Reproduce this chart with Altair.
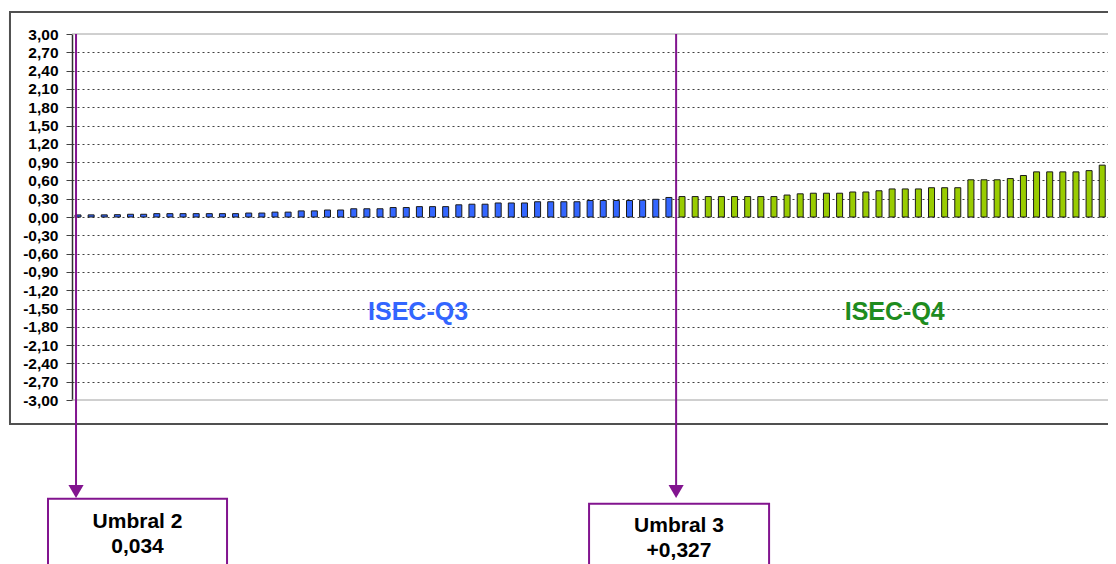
import altair as alt
import pandas as pd

# ---- data ----
q3_values = [0.034, 0.035, 0.035, 0.038, 0.045, 0.045, 0.055, 0.055, 0.055, 0.055,
             0.055, 0.055, 0.055, 0.065, 0.065, 0.08, 0.08, 0.10, 0.10, 0.115,
             0.115, 0.135, 0.135, 0.135, 0.155, 0.155, 0.17, 0.17, 0.17, 0.20,
             0.21, 0.21, 0.23, 0.23, 0.23, 0.25, 0.25, 0.25, 0.25, 0.27,
             0.27, 0.27, 0.27, 0.275, 0.29, 0.32]
q4_values = [0.335, 0.335, 0.335, 0.335, 0.335, 0.335, 0.335, 0.335, 0.36, 0.38,
             0.39, 0.39, 0.39, 0.41, 0.41, 0.43, 0.46, 0.46, 0.46, 0.48,
             0.48, 0.48, 0.61, 0.61, 0.61, 0.63, 0.68, 0.74, 0.74, 0.74,
             0.74, 0.76, 0.85, 1.04]
groups = ["ISEC-Q3", "ISEC-Q4"]
bar_colors = ["#3366FF", "#99CC00"]
label_colors = ["#3366FF", "#1E8C1E"]
y_ticks = [round(-3 + 0.3 * k, 2) for k in range(21)]
threshold_names = ["Umbral 2", "Umbral 3"]
threshold_texts = ["0,034", "+0,327"]

PURPLE = "#82148F"
FONT = "Liberation Sans"

n = len(q3_values) + len(q4_values)
bars = pd.DataFrame({
    "idx": list(range(1, n + 1)),
    "value": q3_values + q4_values,
    "group": [groups[0]] * len(q3_values) + [groups[1]] * len(q4_values),
})

PLOT_W = 1036
X_DOMAIN = [0.543, 0.543 + PLOT_W / 13.131]
xs = alt.Scale(domain=X_DOMAIN, nice=False, zero=False, padding=0)
ys = alt.Scale(domain=[-3, 3], nice=False, zero=False, padding=0)

label_expr = ("(datum.value < -0.001 ? '-' : '') + "
              "replace(format(abs(datum.value), '.2f'), '.', ',')")

y_axis = alt.Axis(
    values=y_ticks, labelExpr=label_expr, title=None,
    labelFont=FONT, labelFontSize=15.5, labelFontWeight="bold", labelColor="black",
    labelPadding=8, labelOverlap=False,
    tickSize=6, tickColor="#404040", tickWidth=1,
    domainColor="#303030", domainWidth=1.5,
    grid=True, gridColor="#404040", gridDash=[2, 3], gridWidth=1,
    gridOpacity={"condition": {"test": "abs(datum.value) > 2.9", "value": 0}, "value": 1},
)

bar_layer = alt.Chart(bars).mark_bar(size=6, stroke="#1A1A1A", strokeWidth=1).encode(
    x=alt.X("idx:Q", scale=xs, axis=None),
    y=alt.Y("value:Q", scale=ys, axis=y_axis),
    color=alt.Color("group:N", scale=alt.Scale(domain=groups, range=bar_colors), legend=None),
)

# outer chart frame
frame_df = pd.DataFrame({"x": [-4.18], "x2": [90.0], "y": [3.36], "y2": [-3.393]})
frame = alt.Chart(frame_df).mark_rect(fillOpacity=0, stroke="#505050", strokeWidth=2).encode(
    x=alt.X("x:Q", scale=xs, axis=None), x2="x2:Q",
    y=alt.Y("y:Q", scale=ys, axis=y_axis), y2="y2:Q",
)

# plot area top/bottom borders
border_df = pd.DataFrame({"y": [3.0, -3.0], "x": [X_DOMAIN[0]] * 2, "x2": [X_DOMAIN[1] + 2] * 2})
borders = alt.Chart(border_df).mark_rule(color="#A0A0A0", strokeWidth=1).encode(
    x=alt.X("x:Q", scale=xs, axis=None), x2="x2:Q",
    y=alt.Y("y:Q", scale=ys, axis=y_axis),
)

# group labels
grp_df = pd.DataFrame({"x": [26.9, 63.2], "y": [-1.55, -1.55], "label": groups,
                       "col": label_colors})
grp_text = alt.Chart(grp_df).mark_text(font=FONT, fontSize=25, fontWeight="bold",
                                      baseline="middle", align="center").encode(
    x=alt.X("x:Q", scale=xs, axis=None),
    y=alt.Y("y:Q", scale=ys, axis=y_axis),
    text="label:N",
    color=alt.Color("col:N", scale=None),
)

# threshold annotations
ann = pd.DataFrame({
    "x": [0.85, len(q3_values) + 0.55],
    "top": [3.0, 3.0],
    "bottom": [-4.45, -4.45],
    "head": [-4.50, -4.50],
    "bx": [-1.285, 39.92], "bx2": [12.35, 53.63],
    "by": [-4.62, -4.70], "by2": [-7.0, -7.0],
    "tx": [5.53, 46.77],
    "t1": [-5.0, -5.07], "t2": [-5.41, -5.48],
    "name": threshold_names, "val": threshold_texts,
})
lines = alt.Chart(ann).mark_rule(color=PURPLE, strokeWidth=2).encode(
    x=alt.X("x:Q", scale=xs, axis=None),
    y=alt.Y("top:Q", scale=ys, axis=y_axis), y2="bottom:Q",
)
heads = alt.Chart(ann).mark_point(shape="triangle-down", filled=True, size=230,
                                  color=PURPLE, opacity=1).encode(
    x=alt.X("x:Q", scale=xs, axis=None),
    y=alt.Y("head:Q", scale=ys, axis=y_axis),
)
boxes = alt.Chart(ann).mark_rect(fill="white", stroke=PURPLE, strokeWidth=2).encode(
    x=alt.X("bx:Q", scale=xs, axis=None), x2="bx2:Q",
    y=alt.Y("by:Q", scale=ys, axis=y_axis), y2="by2:Q",
)
names = alt.Chart(ann).mark_text(font=FONT, fontSize=21, fontWeight="bold", color="black",
                                 baseline="middle", align="center").encode(
    x=alt.X("tx:Q", scale=xs, axis=None),
    y=alt.Y("t1:Q", scale=ys, axis=y_axis),
    text="name:N",
)
vals = alt.Chart(ann).mark_text(font=FONT, fontSize=21, fontWeight="bold", color="black",
                                baseline="middle", align="center").encode(
    x=alt.X("tx:Q", scale=xs, axis=None),
    y=alt.Y("t2:Q", scale=ys, axis=y_axis),
    text="val:N",
)

chart = alt.layer(bar_layer, frame, borders, grp_text, lines, heads, boxes, names, vals).properties(
    width=PLOT_W, height=366,
    autosize=alt.AutoSizeParams(type="none"),
    padding={"left": 64, "top": 26, "right": 0, "bottom": 164},
    background="white",
).configure_view(stroke=None)

chart.save("out.html", embed_options={"renderer": "svg", "actions": False})
